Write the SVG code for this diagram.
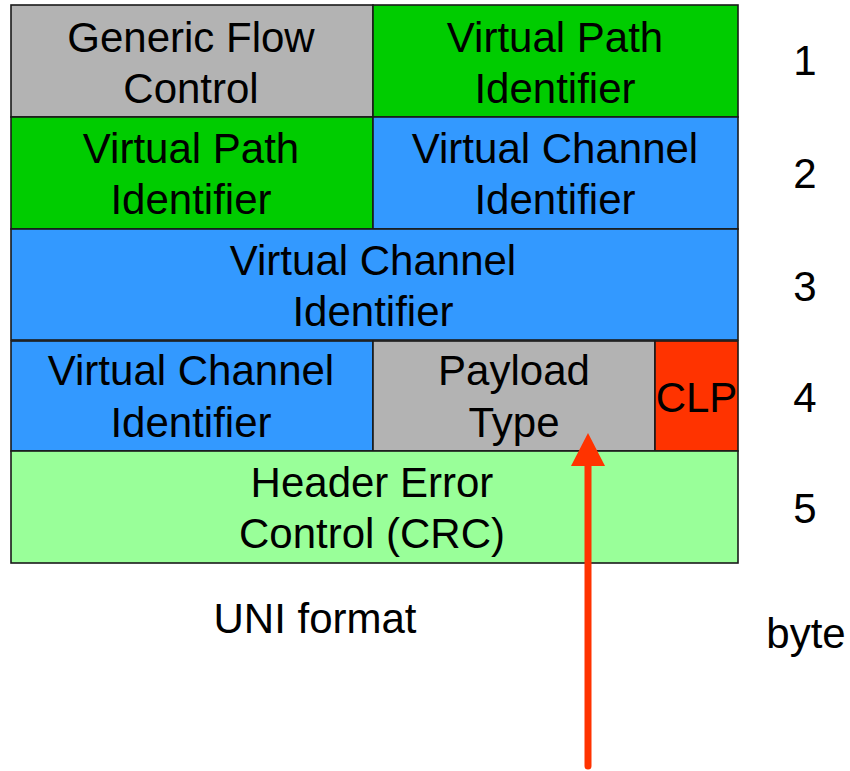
<svg xmlns="http://www.w3.org/2000/svg" width="850" height="771" viewBox="0 0 850 771">
<style>
rect{stroke:#1a1a1a;stroke-width:1.6}
text{font-family:"Liberation Sans",Arial,sans-serif;font-size:42px;fill:#000;text-anchor:middle}
.gray{fill:#b3b3b3}.green{fill:#00cc00}.blue{fill:#3399ff}.red{fill:#ff3300}.lgreen{fill:#99ff99}
</style>
<rect width="850" height="771" fill="#fff" style="stroke:none"/>
<g id="gfc"><rect class="gray" x="11" y="5" width="362" height="112"/><text x="191" y="52">Generic Flow</text><text x="191" y="103">Control</text></g>
<g id="vpi1"><rect class="green" x="373" y="5" width="365" height="112"/><text x="555" y="52">Virtual Path</text><text x="555" y="103">Identifier</text></g>
<g id="vpi2"><rect class="green" x="11" y="117" width="362" height="112"/><text x="191" y="163">Virtual Path</text><text x="191" y="214">Identifier</text></g>
<g id="vci1"><rect class="blue" x="373" y="117" width="365" height="112"/><text x="555" y="163">Virtual Channel</text><text x="555" y="214">Identifier</text></g>
<g id="vci2"><rect class="blue" x="11" y="229" width="727" height="111"/><text x="373" y="275">Virtual Channel</text><text x="373" y="326">Identifier</text></g>
<g id="vci3"><rect class="blue" x="11" y="341" width="362" height="110"/><text x="191" y="385">Virtual Channel</text><text x="191" y="437">Identifier</text></g>
<g id="pt"><rect class="gray" x="373" y="341" width="282" height="110"/><text x="514" y="385">Payload</text><text x="514" y="437">Type</text></g>
<g id="clp"><rect class="red" x="655" y="341" width="83" height="110"/><text x="696.5" y="412">CLP</text></g>
<g id="hec"><rect class="lgreen" x="11" y="451" width="727" height="112"/><text x="372" y="497">Header Error</text><text x="372" y="548">Control (CRC)</text></g>
<g id="labels">
<text x="805" y="75">1</text><text x="805" y="188">2</text><text x="805" y="301">3</text><text x="805" y="412">4</text><text x="805" y="523">5</text>
<text x="315" y="633">UNI format</text><text x="806" y="648">byte</text>
</g>
<g id="connectors">
<line x1="588" y1="766" x2="588" y2="462" stroke="#ff3300" stroke-width="7" stroke-linecap="round"/>
<polygon points="588,433 571,466 605,466" fill="#ff3300"/>
</g>
</svg>
